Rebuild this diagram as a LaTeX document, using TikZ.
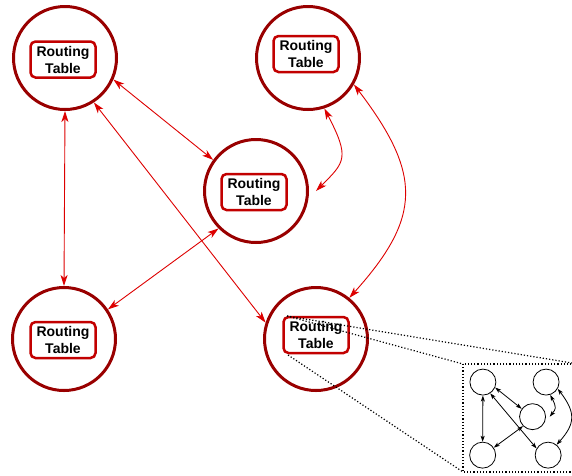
\documentclass[tikz,border=0pt]{standalone}
\usepackage{fontspec}
\setmainfont{Liberation Sans}
\usetikzlibrary{arrows.meta}
\definecolor{ringred}{HTML}{990000}
\definecolor{boxred}{HTML}{C20000}
\definecolor{linkred}{HTML}{DD0000}
\begin{document}
\begin{tikzpicture}[x=1pt,y=-1pt,
  router/.style={circle, draw=ringred, line width=3pt, minimum size=103pt, inner sep=0pt},
  rtable/.style={draw=boxred, line width=2.5pt, rounded corners=5pt, minimum width=65pt,
    minimum height=36pt, inner sep=0pt, align=center,
    font=\fontsize{14}{17}\selectfont\bfseries},
  link/.style={linkred, line width=0.9pt,
    {Stealth[length=11pt,width=7pt,inset=3pt]}-{Stealth[length=11pt,width=7pt,inset=3pt]}},
  mini/.style={circle, draw=black, line width=0.8pt, minimum size=26pt, inner sep=0pt},
  minilink/.style={black, line width=0.8pt,
    {Stealth[length=6pt,width=4pt,inset=1.5pt]}-{Stealth[length=6pt,width=4pt,inset=1.5pt]}},
  zoomline/.style={dotted, line width=1.2pt}
]
\useasboundingbox (0,0) rectangle (572,475);

% routers with their routing tables
\node[router] (TL) at (65,58) {};
\node[router] (TR) at (308,58) {};
\node[router] (M)  at (256,191) {};
\node[router] (BL) at (64,339) {};
\node[router] (BR) at (316,339) {};
\node[rtable] (TLtab) at (63,59.5) {Routing\\Table};
\node[rtable] (TRtab) at (306,54) {Routing\\Table};
\node[rtable] (Mtab)  at (254,192) {Routing\\Table};
\node[rtable] (BLtab) at (63,340) {Routing\\Table};
\node[rtable] (BRtab) at (316,335) {Routing\\Table};

% links between routers
\coordinate (Mtip) at (316,191);
\draw[link] (TL.-90) -- (BL.90);
\draw[link] (TL.-24) -- (M.144);
\draw[link] (TL.-57) -- (BR.162);
\draw[link] (M.-135) -- (BL.34);
\draw[link] (TR.-72) .. controls (350,158) and (345,162) .. (Mtip);
\draw[link] (TR.-30) .. controls (422,174) and (422,217) .. (BR.51);

% magnified view of the network
\begin{scope}[shift={(466,367)}, scale=0.26]
  \node[mini] (tl) at (65,58) {};
  \node[mini] (tr) at (308,58) {};
  \node[mini] (m)  at (256,191) {};
  \node[mini] (bl) at (64,339) {};
  \node[mini] (br) at (316,339) {};
  \coordinate (mtip) at (322,191);
  \draw[minilink] (tl.-90) -- (bl.90);
  \draw[minilink] (tl.-24) -- (m.144);
  \draw[minilink] (tl.-57) -- (br.150);
  \draw[minilink] (m.-135) -- (bl.34);
  \draw[minilink] (tr.-72) .. controls (350,158) and (345,162) .. (mtip);
  \draw[minilink] (tr.-30) .. controls (422,174) and (422,217) .. (br.51);
\end{scope}

% zoom frame and guide lines
\coordinate (zA) at (287,316);
\coordinate (zB) at (288,355);
\coordinate (zNW) at (463,364);
\coordinate (zNE) at (572,363);
\coordinate (zSW) at (463,472);
\coordinate (zSE) at (590,472);
\draw[zoomline] (zNW) rectangle (zSE);
\draw[zoomline] (zA) -- (zNE);
\draw[zoomline] (zA) -- (zNW);
\draw[zoomline] (zB) -- (zSW);
\end{tikzpicture}
\end{document}
